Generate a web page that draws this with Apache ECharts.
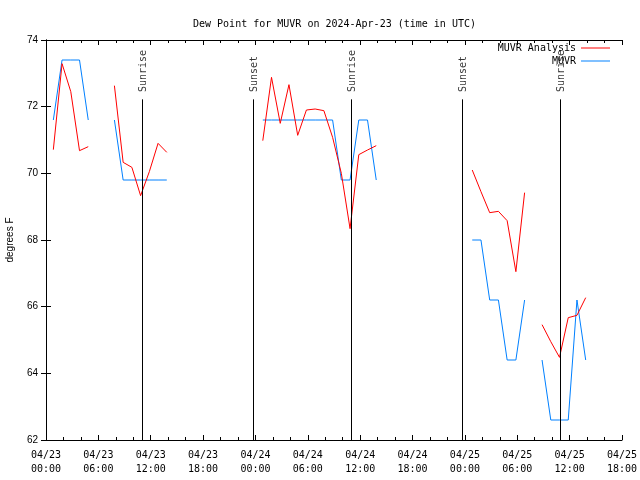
<!DOCTYPE html>
<html>
<head>
<meta charset="utf-8">
<script src="https://cdn.jsdelivr.net/npm/echarts@6/dist/echarts.min.js"></script>
<style>html,body{margin:0;padding:0;background:#fff}#c{width:640px;height:480px}</style>
</head>
<body>
<div id="c"></div>
<script>
// hours since 2024-04-23 00:00 UTC; null marks a gap in the record
const obsHours = [
  0.84, 1.84, 2.84, 3.84, 4.84, null,
  7.84, 8.84, 9.84, 10.84, 11.84, 12.84, 13.84, null,
  24.84, 25.84, 26.84, 27.84, 28.84, 29.84, 30.84, 31.84, 32.84, 33.84, 34.84, 35.84, 36.84, 37.84, null,
  48.84, 49.84, 50.84, 51.84, 52.84, 53.84, 54.84, null,
  56.84, 57.84, 58.84, 59.84, 60.84, 61.84
];
const analysisDewF = [
  70.71, 73.29, 72.45, 70.68, 70.80, null,
  72.63, 70.33, 70.18, 69.33, 70.05, 70.90, 70.63, null,
  70.98, 72.88, 71.50, 72.66, 71.14, 71.90, 71.93, 71.88, 71.08, 70.00, 68.34, 70.56, 70.70, 70.83, null,
  70.10, 69.45, 68.82, 68.86, 68.58, 67.05, 69.42, null,
  65.46, 64.95, 64.48, 65.67, 65.74, 66.27
];
const obsDewF = [
  71.6, 73.4, 73.4, 73.4, 71.6, null,
  71.6, 69.8, 69.8, 69.8, 69.8, 69.8, 69.8, null,
  71.6, 71.6, 71.6, 71.6, 71.6, 71.6, 71.6, 71.6, 71.6, 69.8, 69.8, 71.6, 71.6, 69.8, null,
  68.0, 68.0, 66.2, 66.2, 64.4, 64.4, 66.2, null,
  64.4, 62.6, 62.6, 62.6, 66.2, 64.4
];
const eventHours = [11.03, 23.75, 34.95, 47.74, 58.93];
const eventNames = ['Sunrise', 'Sunset', 'Sunrise', 'Sunset', 'Sunrise'];
const xTickLabels = [
  '04/23\n00:00', '04/23\n06:00', '04/23\n12:00', '04/23\n18:00',
  '04/24\n00:00', '04/24\n06:00', '04/24\n12:00', '04/24\n18:00',
  '04/25\n00:00', '04/25\n06:00', '04/25\n12:00', '04/25\n18:00'
];
const yTicks = [62, 64, 66, 68, 70, 72, 74];
const seriesNames = ['MUVR Analysis', 'MUVR'];

const MONO = 'DejaVu Sans Mono';
const SANS = 'Liberation Sans';

function pairs(vals) {
  return obsHours.map((h, i) => (h === null || vals[i] === null) ? ['-', '-'] : [h, vals[i]]);
}

const chart = echarts.init(document.getElementById('c'), null, {renderer: 'canvas'});
const xBase = {
  type: 'value', min: 0, max: 66, interval: 6,
  axisLine: {show: true, lineStyle: {color: '#000', width: 1}},
  axisTick: {show: true, inside: true, length: 5, lineStyle: {color: '#000'}},
  minorTick: {show: true, splitNumber: 3, length: 3, lineStyle: {color: '#000'}},
  splitLine: {show: false}
};
const yBase = {
  type: 'value', min: yTicks[0], max: yTicks[yTicks.length - 1], interval: 2,
  axisLine: {show: true, lineStyle: {color: '#000', width: 1}},
  axisTick: {show: true, inside: true, length: 5, lineStyle: {color: '#000'}},
  splitLine: {show: false}
};
const legendCommon = {
  right: 30, align: 'right', icon: 'rect', itemWidth: 29, itemHeight: 1,
  textStyle: {fontFamily: MONO, fontSize: 10, color: '#000'}, padding: 0, itemGap: 0
};
chart.setOption({
  animation: false,
  backgroundColor: '#fff',
  title: {
    text: 'Dew Point for MUVR on 2024-Apr-23 (time in UTC)',
    left: 188, top: 14,
    textStyle: {fontFamily: MONO, fontSize: 10, fontWeight: 'normal', color: '#000'}
  },
  grid: {left: 46, right: 18, top: 40, bottom: 40, containLabel: false, outerBoundsMode: 'none'},
  legend: [
    Object.assign({data: [seriesNames[0]], top: 43}, legendCommon),
    Object.assign({data: [seriesNames[1]], top: 56}, legendCommon)
  ],
  xAxis: [
    Object.assign({}, xBase, {
      position: 'bottom',
      axisLabel: {
        margin: 8, fontFamily: MONO, fontSize: 10, color: '#000', lineHeight: 14,
        formatter: v => xTickLabels[Math.round(v / 6)] || ''
      }
    }),
    Object.assign({}, xBase, {position: 'top', axisLabel: {show: false}})
  ],
  yAxis: [
    Object.assign({}, yBase, {
      position: 'left',
      name: 'degrees F', nameLocation: 'middle', nameGap: 31, nameRotate: 90,
      nameTextStyle: {fontFamily: SANS, fontSize: 10, color: '#000'},
      axisLabel: {margin: 8, fontFamily: SANS, fontSize: 10, color: '#000'}
    }),
    Object.assign({}, yBase, {position: 'right', axisLabel: {show: false}})
  ],
  series: [
    {
      name: seriesNames[0], type: 'line', data: pairs(analysisDewF),
      symbol: 'none', connectNulls: false, color: '#ff0000',
      lineStyle: {color: '#ff0000', width: 1}, z: 3
    },
    {
      name: seriesNames[1], type: 'line', data: pairs(obsDewF),
      symbol: 'none', connectNulls: false, color: '#0080ff',
      lineStyle: {color: '#0080ff', width: 1}, z: 2
    },
    {
      name: 'events', type: 'line', data: [], silent: true,
      markLine: {
        silent: true, symbol: ['none', 'none'], animation: false,
        label: {show: false},
        lineStyle: {color: '#000', width: 1, type: 'solid'},
        data: eventHours.map(h => [{coord: [h, 62]}, {coord: [h, 72.22]}])
      }
    },
    {
      name: 'eventLabels', type: 'scatter', symbolSize: 0, silent: true,
      data: eventHours.map((h, i) => ({value: [h, 72.44], name: eventNames[i]})),
      label: {
        show: true, formatter: '{b}', rotate: 90, position: [1, 0],
        align: 'left', verticalAlign: 'middle',
        fontFamily: MONO, fontSize: 10, color: '#000'
      }
    }
  ]
});
</script>
</body>
</html>
